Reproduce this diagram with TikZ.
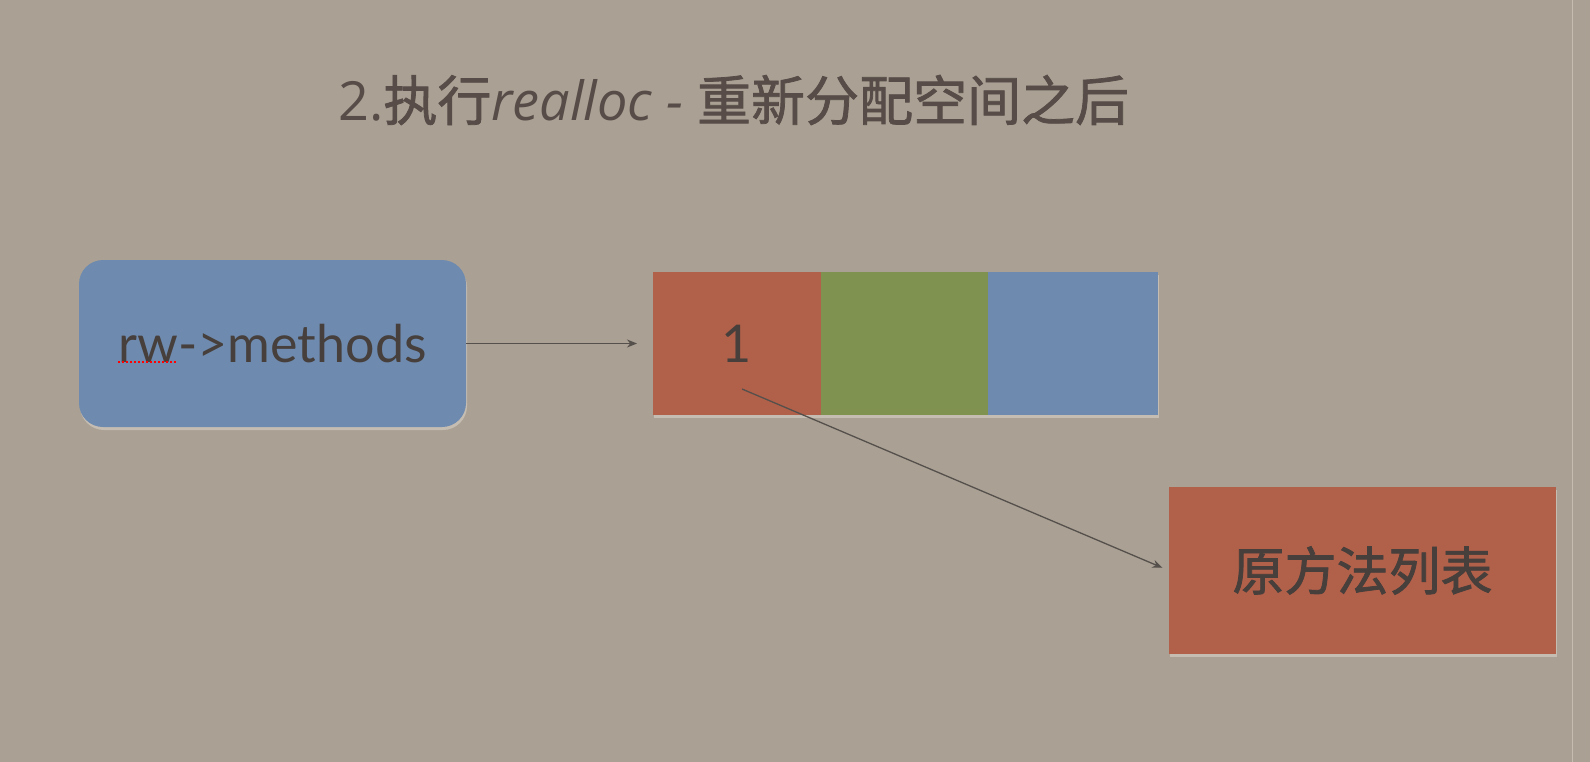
\documentclass[tikz,border=0pt]{standalone}
\usepackage{fontspec}
\setmainfont{Lato}
\newfontfamily\cjk{Noto Sans CJK SC}[FakeBold=1.4]
\newfontfamily\titlelat{Open Sans}
\usetikzlibrary{arrows.meta}
\definecolor{bgc}{HTML}{AAA194}
\definecolor{cellred}{HTML}{B1604A}
\definecolor{cellgreen}{HTML}{7F924F}
\definecolor{cellblue}{HTML}{6E8AAE}
\definecolor{txtc}{HTML}{463F3B}
\definecolor{titlec}{HTML}{574C47}
\definecolor{arrc}{HTML}{55504C}
\definecolor{shadc}{HTML}{C6BDB2}
\tikzset{
  cellbox/.style={minimum width=#1, minimum height=143pt, inner sep=0pt, outer sep=0pt},
  conn/.style={draw=arrc, line width=1.3pt, -{Stealth[length=10pt,width=8pt]}},
  lbl/.style={text=txtc, font=\fontsize{52}{56}\selectfont},
}
\begin{document}
\begin{tikzpicture}[x=1pt,y=-1pt]
\useasboundingbox (0,0) rectangle (1590,762);
\fill[bgc] (0,0) rectangle (1590,762);
\draw[shadc, line width=1pt] (1572,0) -- (1572,762);
% title
\node[anchor=west, text=titlec, inner sep=0pt] (title) at (338,100)
  {\fontsize{54}{58}\selectfont {\titlelat 2.}{\cjk 执行}{\titlelat\itshape realloc -} {\cjk 重新分配空间之后}};
% shadows
\fill[shadc, rounded corners=24pt] (80,263) rectangle (467,430);
\fill[shadc] (654,275) rectangle (1159,418);
\fill[shadc] (1170,490) rectangle (1557,657);
% left box
\node[fill=cellblue, rounded corners=24pt, minimum width=387pt, minimum height=167pt, inner sep=0pt, lbl] (rw) at (272.5,343.5) {rw->methods};
\draw[red, line width=2pt, dash pattern=on 2pt off 2pt] (118,362) -- (176,362);
% array cells
\node[cellbox=168pt, fill=cellred, lbl] (c1) at (737,343.5) {1};
\node[cellbox=167pt, fill=cellgreen, anchor=west] (c2) at (c1.east) {};
\node[cellbox=170pt, fill=cellblue, anchor=west] (c3) at (c2.east) {};
% right box
\node[fill=cellred, minimum width=387pt, minimum height=167pt, inner sep=0pt, lbl] (orig) at (1362.5,570.5) {\cjk 原方法列表};
% connectors
\draw[conn, shorten >=16pt] (rw.east) -- (c1.west);
\coordinate (p1) at (742,389);
\draw[conn, shorten >=7pt] (p1) -- (orig.west);
\end{tikzpicture}
\end{document}
